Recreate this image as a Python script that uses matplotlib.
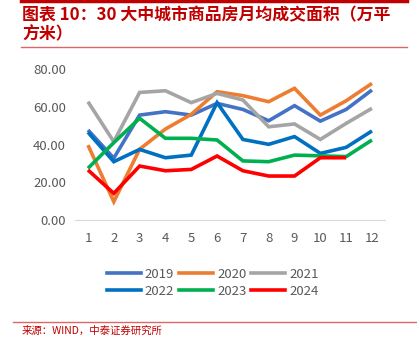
import matplotlib
matplotlib.use("Agg")
import matplotlib.pyplot as plt
from matplotlib.lines import Line2D

plt.rcParams['font.family'] = ['Noto Sans CJK SC', 'DejaVu Sans']

months = list(range(1, 13))
v2019 = [47.7, 32.8, 55.6, 57.4, 55.6, 61.8, 58.6, 52.6, 60.6, 52.4, 58.6, 68.9]
v2020 = [39.7, 9.7, 37.5, 48.2, 56.0, 68.0, 65.9, 62.7, 69.8, 55.6, 63.2, 72.4]
v2021 = [62.7, 41.5, 67.6, 68.5, 62.2, 67.1, 63.6, 49.4, 50.9, 42.7, 51.2, 59.2]
v2022 = [46.5, 30.9, 37.4, 33.0, 34.4, 62.2, 42.7, 40.1, 44.2, 35.3, 38.5, 47.2]
v2023 = [27.4, 41.0, 53.9, 43.3, 43.3, 42.4, 31.3, 30.9, 34.4, 34.0, 33.6, 42.4]
v2024 = [26.5, 14.1, 28.6, 26.1, 26.8, 33.9, 26.1, 23.3, 23.3, 33.0, 33.0]

series = [("2019", v2019, "#4472C4"), ("2020", v2020, "#ED7D31"), ("2021", v2021, "#A5A5A5"),
          ("2022", v2022, "#0070C0"), ("2023", v2023, "#00B050"), ("2024", v2024, "#FF0000")]
yticks = [0, 20, 40, 60, 80]

fig = plt.figure(figsize=(4.17, 3.47), dpi=100)
ax = fig.add_axes([0.18, 0.366, 0.743, 0.435])
for name, vals, c in series:
    ax.plot(months[:len(vals)], vals, color=c, lw=2.6, solid_capstyle='butt', solid_joinstyle='miter')
ax.set_xlim(0.5, 12.5)
ax.set_ylim(0, 80)
ax.set_xticks(months)
ax.set_yticks(yticks)
ax.set_yticklabels([f"{t:.2f}" for t in yticks])
ax.tick_params(length=0, labelsize=9.5, colors="#595959")
ax.tick_params(axis='x', pad=9)
ax.tick_params(axis='y', pad=6.5)
for s in ['top', 'right', 'left']:
    ax.spines[s].set_visible(False)
ax.spines['bottom'].set_color('#D9D9D9')

# legend filled row-wise (3 columns)
order = [0, 3, 1, 4, 2, 5]
handles = [Line2D([0], [0], color=series[i][2], lw=2.6) for i in order]
labels = [series[i][0] for i in order]
fig.legend(handles, labels, ncol=3, loc='center', bbox_to_anchor=(0.51, 0.185),
           frameon=False, fontsize=9.5, handlelength=2.6, handletextpad=0.3, columnspacing=0.35,
           labelspacing=0.3, labelcolor='#595959')

# header lines and title
fig.add_artist(Line2D([0.05, 0.975], [0.997, 0.997], color='#C00000', lw=2.5))
fig.add_artist(Line2D([0.05, 0.975], [0.865, 0.865], color='#E06666', lw=1.0))
fig.text(0.053, 0.957, "图表 10：30 大中城市商品房月均成交面积（万平", color='#C00000',
         fontsize=12.2, fontweight='bold', va='center', ha='left')
fig.text(0.053, 0.9, "方米）", color='#C00000', fontsize=12.2, fontweight='bold', va='center', ha='left')

# footer
fig.add_artist(Line2D([0.031, 1.0], [0.073, 0.073], color='#E06666', lw=1.0))
fig.text(0.053, 0.048, "来源：WIND，中泰证券研究所", color='#C00000', fontsize=7.5, va='center', ha='left')

fig.savefig("out.png", dpi=100)
